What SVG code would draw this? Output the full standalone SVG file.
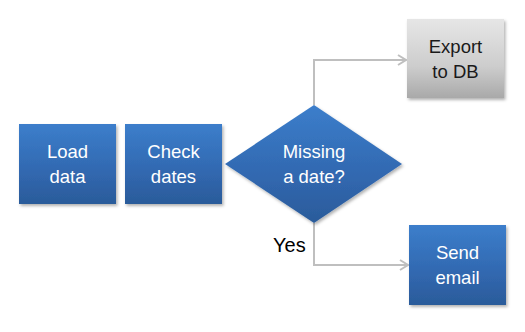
<svg xmlns="http://www.w3.org/2000/svg" width="525" height="332" viewBox="0 0 525 332">
<style>
.box{fill:url(#blue);filter:url(#sh)}
.gbox{fill:url(#gray);filter:url(#sh)}
.t{font-family:"Liberation Sans",Arial,sans-serif;font-size:18.5px;text-anchor:middle;fill:#ffffff}
.tg{font-family:"Liberation Sans",Arial,sans-serif;font-size:18.5px;text-anchor:middle;fill:#1a1a1a}
.lbl{font-family:"Liberation Sans",Arial,sans-serif;font-size:20px;fill:#000000}
.c{fill:none;stroke:#bfbfbf;stroke-width:2}
</style>
<defs>
<linearGradient id="blue" x1="0" y1="0" x2="0" y2="1">
<stop offset="0" stop-color="#3c7ecb"/>
<stop offset="0.6" stop-color="#3168b0"/>
<stop offset="1" stop-color="#2b5b9a"/>
</linearGradient>
<linearGradient id="gray" x1="0" y1="0" x2="0" y2="1">
<stop offset="0" stop-color="#e6e6e6"/>
<stop offset="0.6" stop-color="#cdcdcd"/>
<stop offset="1" stop-color="#a9a9a9"/>
</linearGradient>
<filter id="sh" x="-20%" y="-20%" width="140%" height="140%">
<feDropShadow dx="1.5" dy="2" stdDeviation="1.5" flood-color="#000" flood-opacity="0.3"/>
</filter>
<marker id="arr" markerWidth="12" markerHeight="12" refX="10" refY="6" orient="auto" markerUnits="userSpaceOnUse">
<path d="M2,1 L10,6 L2,11" fill="none" stroke="#bfbfbf" stroke-width="2"/>
</marker>
</defs>
<g id="connectors">
<polyline class="c" points="314,105 314,60 406,60" marker-end="url(#arr)"/>
<polyline class="c" points="314,223 314,265 408,265" marker-end="url(#arr)"/>
<text class="lbl" x="273" y="252">Yes</text>
</g>
<g id="load">
<rect class="box" x="19" y="124" width="97" height="80"/>
<text class="t" x="67.5" y="158">Load</text>
<text class="t" x="67.5" y="183">data</text>
</g>
<g id="check">
<rect class="box" x="125" y="124" width="97" height="80"/>
<text class="t" x="173.5" y="158">Check</text>
<text class="t" x="173.5" y="183">dates</text>
</g>
<g id="missing">
<polygon class="box" points="314,105 402,164 314,223 225,164"/>
<text class="t" x="314" y="158">Missing</text>
<text class="t" x="314" y="183">a date?</text>
</g>
<g id="export">
<rect class="gbox" x="407" y="19" width="97" height="79"/>
<text class="tg" x="455.5" y="53">Export</text>
<text class="tg" x="455.5" y="78">to DB</text>
</g>
<g id="send">
<rect class="box" x="409" y="225" width="97" height="80"/>
<text class="t" x="457.5" y="259">Send</text>
<text class="t" x="457.5" y="284">email</text>
</g>
</svg>
